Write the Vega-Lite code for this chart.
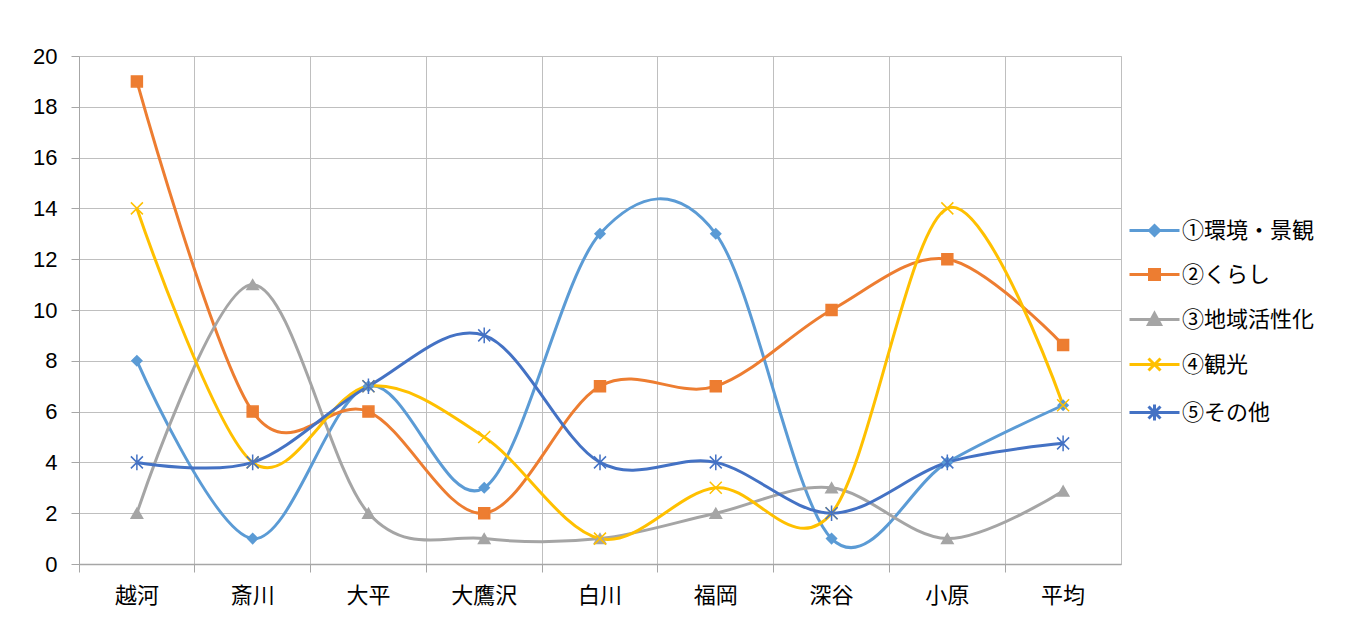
{
  "$schema": "https://vega.github.io/schema/vega-lite/v6.json",
  "width": 1042,
  "height": 508,
  "padding": {"left": 0, "top": 45, "right": 0, "bottom": 12},
  "background": "white",
  "config": {
    "view": {"stroke": "#bfbfbf", "strokeWidth": 1},
    "axis": {"labelColor": "black", "title": null}
  },
  "data": {
    "values": [
      {"area": "越河", "series": "①環境・景観", "value": 8},
      {"area": "斎川", "series": "①環境・景観", "value": 1},
      {"area": "大平", "series": "①環境・景観", "value": 7},
      {"area": "大鷹沢", "series": "①環境・景観", "value": 3},
      {"area": "白川", "series": "①環境・景観", "value": 13},
      {"area": "福岡", "series": "①環境・景観", "value": 13},
      {"area": "深谷", "series": "①環境・景観", "value": 1},
      {"area": "小原", "series": "①環境・景観", "value": 4},
      {"area": "平均", "series": "①環境・景観", "value": 6.25},
      {"area": "越河", "series": "②くらし", "value": 19},
      {"area": "斎川", "series": "②くらし", "value": 6},
      {"area": "大平", "series": "②くらし", "value": 6},
      {"area": "大鷹沢", "series": "②くらし", "value": 2},
      {"area": "白川", "series": "②くらし", "value": 7},
      {"area": "福岡", "series": "②くらし", "value": 7},
      {"area": "深谷", "series": "②くらし", "value": 10},
      {"area": "小原", "series": "②くらし", "value": 12},
      {"area": "平均", "series": "②くらし", "value": 8.625},
      {"area": "越河", "series": "③地域活性化", "value": 2},
      {"area": "斎川", "series": "③地域活性化", "value": 11},
      {"area": "大平", "series": "③地域活性化", "value": 2},
      {"area": "大鷹沢", "series": "③地域活性化", "value": 1},
      {"area": "白川", "series": "③地域活性化", "value": 1},
      {"area": "福岡", "series": "③地域活性化", "value": 2},
      {"area": "深谷", "series": "③地域活性化", "value": 3},
      {"area": "小原", "series": "③地域活性化", "value": 1},
      {"area": "平均", "series": "③地域活性化", "value": 2.875},
      {"area": "越河", "series": "④観光", "value": 14},
      {"area": "斎川", "series": "④観光", "value": 4},
      {"area": "大平", "series": "④観光", "value": 7},
      {"area": "大鷹沢", "series": "④観光", "value": 5},
      {"area": "白川", "series": "④観光", "value": 1},
      {"area": "福岡", "series": "④観光", "value": 3},
      {"area": "深谷", "series": "④観光", "value": 2},
      {"area": "小原", "series": "④観光", "value": 14},
      {"area": "平均", "series": "④観光", "value": 6.25},
      {"area": "越河", "series": "⑤その他", "value": 4},
      {"area": "斎川", "series": "⑤その他", "value": 4},
      {"area": "大平", "series": "⑤その他", "value": 7},
      {"area": "大鷹沢", "series": "⑤その他", "value": 9},
      {"area": "白川", "series": "⑤その他", "value": 4},
      {"area": "福岡", "series": "⑤その他", "value": 4},
      {"area": "深谷", "series": "⑤その他", "value": 2},
      {"area": "小原", "series": "⑤その他", "value": 4},
      {"area": "平均", "series": "⑤その他", "value": 4.75}
    ]
  },
  "encoding": {
    "x": {
      "field": "area",
      "type": "nominal",
      "sort": null,
      "scale": {"type": "band", "paddingInner": 0, "paddingOuter": 0},
      "axis": {
        "bandPosition": 0,
        "grid": true,
        "gridColor": "#bfbfbf",
        "domainColor": "#a6a6a6",
        "domainWidth": 1.5,
        "tickColor": "#a6a6a6",
        "tickSize": 8,
        "labelAngle": 0,
        "labelFont": "Noto Sans CJK JP",
        "labelFontSize": 22,
        "labelPadding": 13
      }
    },
    "y": {
      "field": "value",
      "type": "quantitative",
      "scale": {"domain": [0, 20], "nice": false},
      "axis": {
        "values": [0, 2, 4, 6, 8, 10, 12, 14, 16, 18, 20],
        "grid": true,
        "gridColor": "#bfbfbf",
        "domainColor": "#a6a6a6",
        "tickColor": "#a6a6a6",
        "tickSize": 8,
        "labelFont": "Liberation Sans",
        "labelFontSize": 22,
        "labelPadding": 14,
        "minExtent": 79,
        "maxExtent": 79
      }
    }
  },
  "layer": [
    {
      "mark": {"type": "line", "interpolate": "cardinal", "tension": 0, "strokeWidth": 3},
      "encoding": {
        "color": {
          "field": "series",
          "type": "nominal",
          "sort": null,
          "scale": {
            "domain": ["①環境・景観", "②くらし", "③地域活性化", "④観光", "⑤その他"],
            "range": ["#5B9BD5", "#ED7D31", "#A5A5A5", "#FFC000", "#4472C4"]
          },
          "legend": {
            "orient": "none",
            "legendX": 1064,
            "legendY": 163,
            "title": null,
            "labelFont": "Noto Sans CJK JP",
            "labelFontSize": 22,
            "labelColor": "black",
            "symbolSize": 400,
            "labelOffset": 16,
            "rowPadding": 21,
            "encode": {
              "symbols": {
                "update": {
                  "shape": {"signal": "datum.value === '①環境・景観' ? 'M-2.5,0L2.5,0M0,-0.5L0.5,0L0,0.5L-0.5,0Z' : datum.value === '②くらし' ? 'M-2.5,0L2.5,0M-0.5,-0.5L0.5,-0.5L0.5,0.5L-0.5,0.5Z' : datum.value === '③地域活性化' ? 'M-2.5,0L2.5,0M0,-0.6L0.6,0.5L-0.6,0.5Z' : datum.value === '④観光' ? 'M-2.5,0L2.5,0M-0.6,-0.6L0.6,0.6M-0.6,0.6L0.6,-0.6' : 'M-2.5,0L2.5,0M-0.6,-0.6L0.6,0.6M-0.6,0.6L0.6,-0.6M0,-0.8L0,0.8'"},
                  "fill": {"scale": "color", "field": "value"},
                  "stroke": {"scale": "color", "field": "value"},
                  "strokeWidth": {"value": 3},
                  "size": {"value": 400},
                  "opacity": {"value": 1}
                }
              }
            }
          }
        }
      }
    },
    {
      "transform": [{"filter": "datum.series === '①環境・景観'"}],
      "mark": {"type": "point", "shape": "diamond", "size": 100, "filled": true, "fill": "#5B9BD5", "stroke": "#5B9BD5", "strokeWidth": 1.5, "opacity": 1}
    },
    {
      "transform": [{"filter": "datum.series === '②くらし'"}],
      "mark": {"type": "point", "shape": "square", "size": 120, "filled": true, "fill": "#ED7D31", "stroke": "#ED7D31", "strokeWidth": 1.5, "opacity": 1}
    },
    {
      "transform": [{"filter": "datum.series === '③地域活性化'"}],
      "mark": {"type": "point", "shape": "triangle-up", "size": 130, "filled": true, "fill": "#A5A5A5", "stroke": "#A5A5A5", "strokeWidth": 1.5, "opacity": 1}
    },
    {
      "transform": [{"filter": "datum.series === '④観光'"}],
      "mark": {"type": "point", "shape": "M-1,-1L1,1M-1,1L1,-1", "size": 144, "filled": false, "stroke": "#FFC000", "strokeWidth": 1.5, "opacity": 1}
    },
    {
      "transform": [{"filter": "datum.series === '⑤その他'"}],
      "mark": {"type": "point", "shape": "M-1,-1L1,1M-1,1L1,-1M0,-1.3L0,1.3", "size": 144, "filled": false, "stroke": "#4472C4", "strokeWidth": 1.5, "opacity": 1}
    }
  ]
}
